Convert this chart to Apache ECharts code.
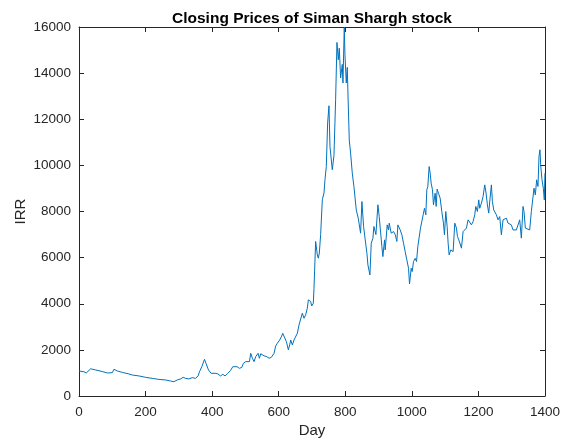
<!DOCTYPE html>
<html><head><meta charset="utf-8">
<script src="https://cdn.jsdelivr.net/npm/echarts@6/dist/echarts.min.js"></script>
<style>html,body{margin:0;padding:0;background:#fff}#c{width:563px;height:447px}</style>
</head><body><div id="c"></div>
<script>
const titleText = 'Closing Prices of Siman Shargh stock';
const xTicks = [0, 200, 400, 600, 800, 1000, 1200, 1400];
const yTicks = [0, 2000, 4000, 6000, 8000, 10000, 12000, 14000, 16000];
const days = [0,15,22,35,50,70,85,100,105,115,130,150,160,180,200,220,240,260,275,285,295,305,313,320,330,340,350,358,362,369,377,382,389,397,402,409,417,425,432,439,447,455,462,467,475,482,489,494,501,507,512,516,521,526,531,538,542,546,551,556,564,571,578,586,591,596,603,609,612,618,623,629,633,636,641,646,651,656,661,666,671,676,681,686,689,696,699,704,706,711,716,719,722,726,731,736,739,743,747,751,754,761,766,771,775,779,782,786,791,793,797,799,803,806,808,812,816,821,826,833,839,843,846,850,855,860,865,868,874,878,883,886,892,898,902,905,910,913,918,920,926,930,932,938,945,950,955,958,965,970,975,980,985,990,993,998,1001,1005,1010,1014,1018,1022,1026,1030,1034,1038,1042,1045,1048,1052,1055,1058,1062,1065,1070,1073,1076,1080,1085,1090,1095,1098,1102,1106,1109,1112,1117,1124,1129,1134,1137,1141,1145,1149,1154,1159,1164,1169,1174,1179,1184,1189,1192,1197,1201,1204,1209,1214,1219,1223,1227,1231,1235,1239,1242,1246,1251,1254,1259,1264,1269,1274,1279,1284,1289,1294,1299,1304,1309,1314,1319,1324,1329,1334,1337,1341,1347,1354,1359,1364,1367,1371,1375,1379,1382,1385,1387,1391,1395,1398,1400];
const prices = [1085,1050,1000,1180,1130,1060,1000,1010,1160,1085,1025,955,910,870,810,765,720,695,650,620,695,740,810,765,740,795,765,870,1055,1270,1590,1400,1130,985,1030,985,960,870,940,870,985,1100,1270,1200,1270,1200,1240,1420,1490,1560,1490,1850,1635,1490,1710,1850,1635,1830,1880,1740,1710,1635,1680,1850,2170,2290,2430,2600,2720,2650,2360,2000,2215,2430,2215,2430,2400,2720,3080,3155,3590,3370,3520,3810,4170,4100,3905,4020,4670,6700,6120,5975,6200,7000,8505,8800,9375,9950,11835,12585,10820,9810,10430,12845,15330,14580,15080,13790,14380,13570,16000,14800,13570,14250,13135,11100,10530,9665,9085,8070,7710,7640,7060,8430,7350,6770,6190,5685,5250,6625,6840,7350,7000,8290,7780,7280,6480,6045,6770,6335,7420,7200,7495,7060,7130,7000,6700,7420,7200,6990,6625,6260,5900,5540,4860,5540,5395,5830,5970,5830,6480,6550,7280,7200,7855,8140,7855,8940,9085,9950,9665,9230,8940,8290,8795,8220,8970,8795,8580,8000,7495,6990,8000,7350,6625,6120,6335,6260,7495,7280,6920,6770,6840,6410,7130,7060,7280,7640,7565,7420,7565,7855,8220,8000,8505,8140,8360,8650,9155,8795,8290,7930,8580,9155,8435,8070,8070,7855,7640,7780,6990,7640,7565,7710,7495,7565,7420,7200,7280,7200,7200,7640,6845,8220,8000,7280,7280,7200,8000,8070,9010,8720,9375,9085,10385,10675,10025,9375,9010,8505,9665];

const axisColor = '#262626';
const font = 'Liberation Sans, Arial, sans-serif';
const chart = echarts.init(document.getElementById('c'), null, {renderer: 'canvas'});
const plain = v => String(v);
const xBase = {
  type: 'value', min: xTicks[0], max: xTicks[xTicks.length - 1], interval: 200,
  axisLine: {show: true, onZero: false, lineStyle: {color: axisColor, width: 1}},
  axisTick: {show: true, inside: true, length: 5, lineStyle: {color: axisColor}},
  splitLine: {show: false}
};
const yBase = {
  type: 'value', min: yTicks[0], max: yTicks[yTicks.length - 1], interval: 2000,
  axisLine: {show: true, onZero: false, lineStyle: {color: axisColor, width: 1}},
  axisTick: {show: true, inside: true, length: 5, lineStyle: {color: axisColor}},
  splitLine: {show: false}
};
chart.setOption({
  animation: false,
  backgroundColor: '#fff',
  title: {text: titleText, left: 307, textAlign: 'center', top: 6,
    textStyle: {fontFamily: font, fontSize: 15.5, fontWeight: 'bold', color: '#000'}},
  grid: {left: 79, right: 16, top: 27, bottom: 51, containLabel: false},
  xAxis: [
    Object.assign({}, xBase, {position: 'bottom', name: 'Day', nameLocation: 'middle', nameGap: 27,
      nameMoveOverlap: false,
      nameTextStyle: {fontFamily: font, fontSize: 15, color: axisColor},
      axisLabel: {show: true, margin: 9, formatter: plain, fontFamily: font, fontSize: 13.5, color: axisColor}}),
    Object.assign({}, xBase, {position: 'top', axisLabel: {show: false}})
  ],
  yAxis: [
    Object.assign({}, yBase, {position: 'left', name: 'IRR', nameLocation: 'middle', nameGap: 51,
      nameMoveOverlap: false,
      nameTextStyle: {fontFamily: font, fontSize: 15, color: axisColor},
      axisLabel: {show: true, margin: 8, formatter: plain, fontFamily: font, fontSize: 13.5, color: axisColor}}),
    Object.assign({}, yBase, {position: 'right', axisLabel: {show: false}})
  ],
  series: [{
    type: 'line', xAxisIndex: 0, yAxisIndex: 0, showSymbol: false, symbol: 'none',
    data: days.map((d, i) => [d, prices[i]]),
    lineStyle: {color: '#0072BD', width: 1}, clip: true
  }]
});
</script></body></html>
